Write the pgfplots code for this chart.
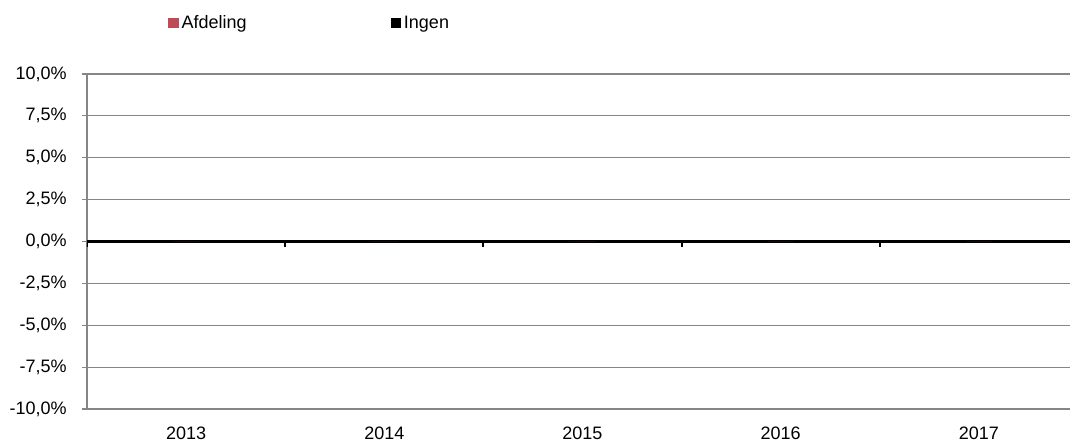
\documentclass[border=0pt]{standalone}
\usepackage{fontspec}
\setmainfont{Liberation Sans}
\usepackage{pgfplots}
\pgfplotsset{compat=1.18}
\definecolor{afd}{HTML}{BE4B55}
\definecolor{gridg}{HTML}{868686}
\begin{document}
\begin{tikzpicture}
\begin{axis}[
  at={(0,0)}, anchor=south west,
  scale only axis,
  width=737.25pt, height=251.25pt,
  xmin=-0.5, xmax=4.46, ymin=-10, ymax=10,
  enlargelimits=false,
  axis lines*=left,
  axis line style={-, draw=gridg, line width=0.9pt},
  xtick=data,
  xticklabels={2013,2014,2015,2016,2017},
  x tick style={draw=none},
  ytick={-10,-7.5,-5,-2.5,0,2.5,5,7.5,10},
  yticklabels={-10{,}0\%,-7{,}5\%,-5{,}0\%,-2{,}5\%,0{,}0\%,2{,}5\%,5{,}0\%,7{,}5\%,10{,}0\%},
  y tick style={draw=gridg, line width=0.9pt},
  tick align=outside,
  major tick length=3.75pt,
  ymajorgrids,
  grid style={draw=gridg, line width=0.9pt},
  extra y ticks={0},
  extra y tick labels={},
  extra y tick style={grid style={draw=black, line width=2.25pt}, tick style={draw=none}},
  ticklabel style={font=\fontsize{13.5pt}{15pt}\selectfont, text=black},
  yticklabel style={xshift=-8pt},
  xticklabel style={yshift=-6pt},
  legend columns=2,
  legend style={draw=none, fill=none, at={(0.0824,1.152)}, anchor=west,
    font=\fontsize{13.5pt}{15pt}\selectfont, inner sep=0pt,
    /tikz/every even column/.append style={column sep=106pt}},
  legend cell align=left,
  legend image code/.code={\fill[#1] (0pt,-4pt) rectangle (8pt,4pt);},
]
\addplot[ybar, bar width=20pt, fill=afd, draw=none] coordinates {(0,0) (1,0) (2,0) (3,0) (4,0)};
\addlegendentry{Afdeling}
\addplot[ybar, bar width=20pt, fill=black, draw=none] coordinates {(0,0) (1,0) (2,0) (3,0) (4,0)};
\addlegendentry{Ingen}
\pgfplotsinvokeforeach{-0.5,0.5,1.5,2.5,3.5}{
  \draw[black, line width=1.5pt] (axis cs:#1,0) -- ++(0pt,-4.2pt);
}
\end{axis}
\pgfresetboundingbox
\path[use as bounding box] (-65.25pt,-24pt) rectangle (737.25pt,306.75pt);
\end{tikzpicture}
\end{document}
